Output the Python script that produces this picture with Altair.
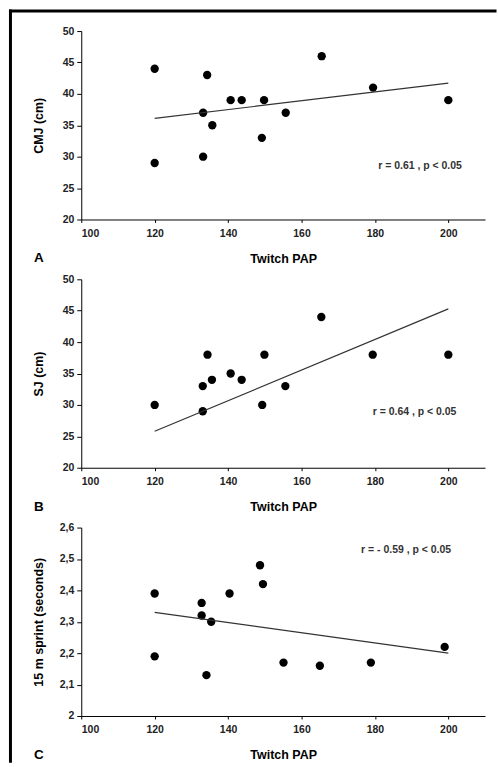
import altair as alt
import pandas as pd

# ---------------- data ----------------
x_ticks = [100, 120, 140, 160, 180, 200]

twitch_A = [120, 120, 134.3, 133.2, 135.7, 133.2, 140.7, 143.7, 149.8, 149.2, 155.7, 165.5, 179.5, 200]
cmj = [44, 29, 43, 37, 35, 30, 39, 39, 39, 33, 37, 46, 41, 39]

twitch_B = [120, 133.1, 133.1, 134.4, 135.6, 140.7, 143.7, 149.9, 149.3, 155.6, 165.4, 179.4, 200]
sj = [30, 29, 33, 38, 34, 35, 34, 38, 30, 33, 44, 38, 38]

twitch_C = [120, 120, 132.8, 132.8, 135.4, 134.1, 140.4, 148.7, 149.5, 155.1, 165.0, 178.9, 199.0]
sprint = [2.39, 2.19, 2.36, 2.32, 2.30, 2.13, 2.39, 2.48, 2.42, 2.17, 2.16, 2.17, 2.22]

fit_x = [120, 200]
fit_A = [36.1, 41.7]
fit_B = [25.8, 45.3]
fit_C = [2.33, 2.20]

ticks_A = [20, 25, 30, 35, 40, 45, 50]
ticks_B = [20, 25, 30, 35, 40, 45, 50]
ticks_C = [2.0, 2.1, 2.2, 2.3, 2.4, 2.5, 2.6]

notes = ["r = 0.61 , p < 0.05", "r = 0.64 , p < 0.05", "r = - 0.59 , p < 0.05"]
letters = ["A", "B", "C"]
y_titles = ["CMJ (cm)", "SJ (cm)", "15 m sprint (seconds)"]

# ---------------- layout / style ----------------
FONT = "Liberation Sans"
W, H = 405, 189


def panel(xs, ys, fy, ytitle, ydom, yvals, letter, note, nx, ny, comma=False, frame=False):
    pts = pd.DataFrame({"x": xs, "y": ys})
    fit = pd.DataFrame({"x": fit_x, "y": fy})

    xenc = alt.X(
        "x:Q",
        scale=alt.Scale(domain=[100, 210], nice=False, zero=False),
        axis=alt.Axis(values=x_ticks, tickCount=len(x_ticks), title="Twitch PAP", tickSize=3,
                      labelPadding=6, titleY=39, titleBaseline="middle"),
    )
    yaxis_kw = dict(values=yvals, tickCount=len(yvals), title=ytitle, tickSize=4.5, labelPadding=3,
                    titleX=-43, titleY=H / 2, titleAngle=-90, titleBaseline="middle",
                    titleAlign="center")
    if comma:
        yaxis_kw["labelExpr"] = "replace(format(datum.value, '.1~f'), '.', ',')"
    yenc = alt.Y("y:Q", scale=alt.Scale(domain=ydom, nice=False, zero=False),
                 axis=alt.Axis(**yaxis_kw))

    points = alt.Chart(pts).mark_circle(size=70, color="black", opacity=1).encode(x=xenc, y=yenc)
    line = alt.Chart(fit).mark_line(color="#333333", strokeWidth=1.2).encode(x=xenc, y=yenc)
    txt = alt.Chart(pd.DataFrame({"t": [note]})).mark_text(
        font=FONT, fontSize=10.5, fontWeight="bold", color="#333333", align="center", baseline="middle"
    ).encode(x=alt.datum(nx), y=alt.datum(ny), text="t:N")
    lab = alt.Chart(pd.DataFrame({"t": [letter]})).mark_text(
        font=FONT, fontSize=13.5, fontWeight="bold", color="black", align="center", baseline="middle"
    ).encode(x=alt.value(-42.5), y=alt.value(H + 39), text="t:N")

    layers = [points, line, txt, lab]
    if frame:
        one = pd.DataFrame({"k": [0]})
        left = alt.Chart(one).mark_rule(color="black", strokeWidth=3).encode(
            x=alt.value(-71), y=alt.value(-21.5), y2=alt.value(734))
        top = alt.Chart(one).mark_rule(color="black", strokeWidth=3).encode(
            x=alt.value(-72.5), x2=alt.value(416.5), y=alt.value(-20))
        layers += [left, top]
    return alt.layer(*layers).properties(width=W, height=H)


pA = panel(twitch_A, cmj, fit_A, y_titles[0], [20, 50], ticks_A, letters[0], notes[0], 192.3, 28.5, frame=True)
pB = panel(twitch_B, sj, fit_B, y_titles[1], [20, 50], ticks_B, letters[1], notes[1], 190.8, 28.8)
pC = panel(twitch_C, sprint, fit_C, y_titles[2], [2.0, 2.6], ticks_C, letters[2], notes[2], 188.5, 2.53, comma=True)

chart = (
    alt.vconcat(pA, pB, pC, spacing=60, bounds="flush")
    .properties(padding={"left": 7.5, "top": 7, "right": 0, "bottom": 0}, background="white")
    .configure_view(strokeWidth=0)
    .configure_axis(
        grid=False,
        domainColor="black",
        domainWidth=1,
        tickColor="black",
        tickWidth=1,
        labelFont=FONT,
        labelFontSize=10.5,
        labelFontWeight="bold",
        labelColor="#222222",
        titleFont=FONT,
        titleFontSize=12.5,
        titleFontWeight="bold",
        titleColor="black",
    )
)

chart.save("out.html", embed_options={"renderer": "svg", "actions": False})
